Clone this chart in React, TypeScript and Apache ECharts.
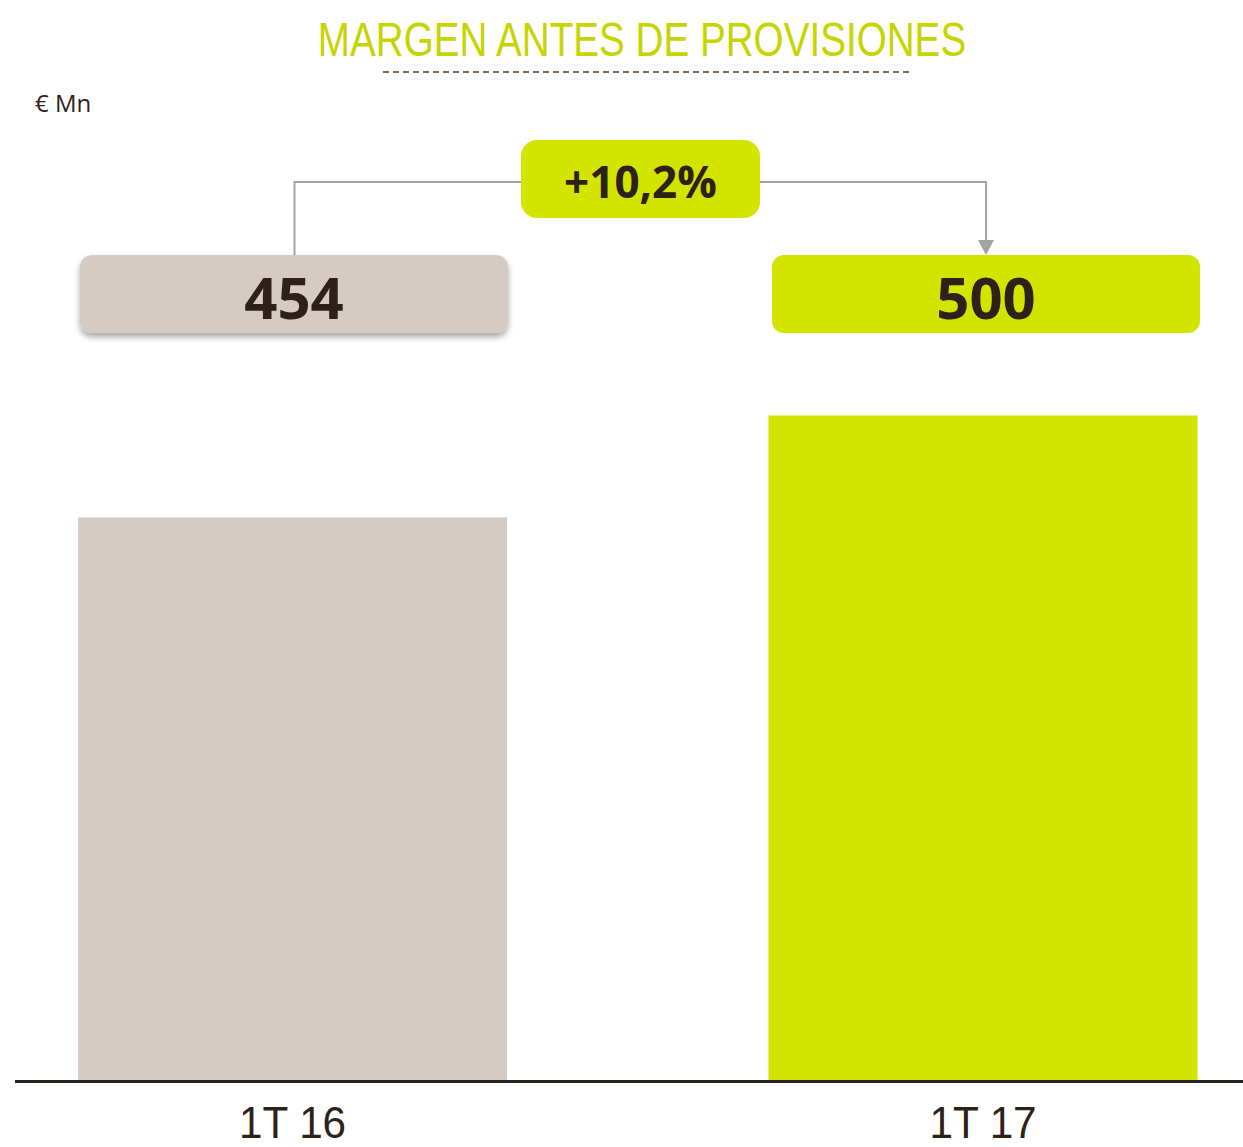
import React, { useEffect, useRef } from "react";
import * as echarts from "echarts";

const categories = ["1T 16", "1T 17"];
const values = [454, 500];
const barColors = ["#d5cac4", "#d2e400"];
const valueLabels = ["454", "500"];
const changeLabel = "+10,2%";
const title = "MARGEN ANTES DE PROVISIONES";
const unitLabel = "€ Mn";
const yMin = 200;
const yMax = 600;

export default function App() {
  const ref = useRef<HTMLDivElement>(null);
  useEffect(() => {
    const chart = echarts.init(ref.current!, null, { renderer: "svg" });
    chart.setOption({
      animation: false,
      grid: { left: 292.5, right: 260, top: 194, bottom: 67 },
      xAxis: {
        type: "category",
        data: categories,
        boundaryGap: false,
        axisLine: { show: false },
        axisTick: { show: false },
        axisLabel: { show: false },
      },
      yAxis: {
        type: "value",
        min: yMin,
        max: yMax,
        show: false,
        splitLine: { show: false },
      },
      series: [
        {
          type: "bar",
          barWidth: 429,
          data: values.map((v, i) => ({ value: v, itemStyle: { color: barColors[i] } })),
        },
      ],
    });

    const xs = categories.map((c) => chart.convertToPixel({ xAxisIndex: 0 }, c) as number);
    const lx = xs[0] + 2;
    const rx = xs[1] + 3;
    const lineColor = "#a3a3a3";
    const graphic: any[] = [
      {
        type: "text",
        x: 642,
        y: 39,
        scaleX: 0.805,
        style: {
          text: title,
          x: 0,
          y: 0,
          textAlign: "center",
          textVerticalAlign: "middle",
          font: '48px "Liberation Sans"',
          fill: "#c6d400",
        },
      },
      {
        type: "line",
        shape: { x1: 383, y1: 72, x2: 910, y2: 72 },
        style: { stroke: "#7d6b5b", lineWidth: 2, lineDash: [6, 4] },
      },
      {
        type: "text",
        style: {
          text: unitLabel,
          x: 35,
          y: 102,
          textVerticalAlign: "middle",
          font: '24px "Open Sans"',
          fill: "#2d2118",
        },
      },
      {
        type: "line",
        shape: { x1: 15, y1: 1081.5, x2: 1243, y2: 1081.5 },
        style: { stroke: "#2d2118", lineWidth: 3 },
      },
      {
        type: "polyline",
        shape: { points: [[lx, 255], [lx, 182], [522, 182]] },
        style: { stroke: lineColor, lineWidth: 2, fill: null },
      },
      {
        type: "polyline",
        shape: { points: [[759, 182], [rx, 182], [rx, 242]] },
        style: { stroke: lineColor, lineWidth: 2, fill: null },
      },
      {
        type: "polygon",
        shape: { points: [[rx - 8, 240], [rx + 8, 240], [rx, 255]] },
        style: { fill: lineColor },
      },
      {
        type: "rect",
        shape: { x: 521, y: 140, width: 239, height: 78, r: 16 },
        style: { fill: "#d2e400" },
      },
      {
        type: "text",
        style: {
          text: changeLabel,
          x: 640.5,
          y: 181,
          textAlign: "center",
          textVerticalAlign: "middle",
          font: 'bold 44px "Open Sans"',
          fill: "#2d2118",
        },
      },
    ];
    xs.forEach((x, i) => {
      const cx = x + (i === 0 ? 1.5 : 3);
      graphic.push({
        type: "rect",
        shape: { x: cx - 214, y: 255, width: 428, height: 78, r: 12 },
        style: {
          fill: barColors[i],
          shadowBlur: i === 0 ? 6 : 0,
          shadowOffsetY: i === 0 ? 4 : 0,
          shadowColor: "rgba(0,0,0,0.35)",
        },
      });
      graphic.push({
        type: "text",
        style: {
          text: valueLabels[i],
          x: cx,
          y: 296,
          textAlign: "center",
          textVerticalAlign: "middle",
          font: 'bold 58px "Open Sans"',
          fill: "#2d2118",
        },
      });
      graphic.push({
        type: "text",
        x: x,
        y: 1123,
        scaleX: 0.96,
        style: {
          text: categories[i],
          x: 0,
          y: 0,
          textAlign: "center",
          textVerticalAlign: "middle",
          font: '44px "Liberation Sans"',
          fill: "#2d2118",
        },
      });
    });
    chart.setOption({ graphic });
    return () => chart.dispose();
  }, []);
  return (
    <div
      ref={ref}
      style={{ position: "fixed", left: 0, top: 0, width: 1243, height: 1147, background: "#fff" }}
    />
  );
}
